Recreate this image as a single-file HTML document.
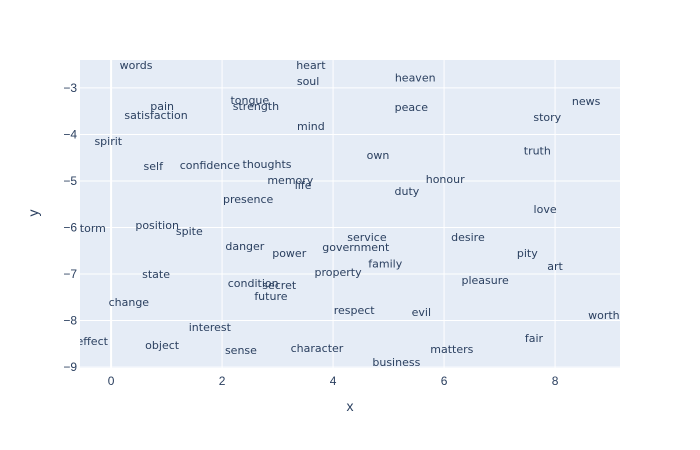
<!DOCTYPE html>
<html><head><meta charset="utf-8">
<style>
html,body{margin:0;padding:0;background:#fff;}
svg{display:block;font-family:"Liberation Sans","DejaVu Sans",sans-serif;}
.w{font-family:"DejaVu Sans","Liberation Sans",sans-serif;}
</style></head>
<body>
<svg id="chart" width="700" height="450" xmlns="http://www.w3.org/2000/svg">
<defs><clipPath id="plotclip"><rect x="80" y="60" width="540" height="308"/></clipPath></defs>
<rect x="80" y="60" width="540" height="308" fill="#e5ecf6"/>
<g id="grid"></g>
<g id="points" clip-path="url(#plotclip)"></g>
<g id="ticks"></g>
<text x="350" y="411" font-size="14" fill="#2a3f5f" text-anchor="middle">x</text>
<text x="0" y="0" font-size="14" fill="#2a3f5f" text-anchor="middle" transform="translate(38,213) rotate(-90)">y</text>
</svg>
<script>
const words = ["words","heart","soul","heaven","news","tongue","strength","pain","satisfaction","peace","story","mind","spirit","truth","own","self","confidence","thoughts","memory","life","honour","duty","season","presence","love","storm","position","spite","danger","power","government","service","desire","pity","art","family","property","state","pleasure","condition","secret","future","change","respect","evil","worth","interest","effect","object","fair","sense","character","matters","business"];
const xVals = [0.45,3.6,3.55,5.48,8.56,2.5,2.61,0.92,0.81,5.41,7.86,3.6,-0.05,7.68,4.81,0.76,1.78,2.81,3.23,3.46,6.02,5.33,-1.0,2.47,7.82,-0.38,0.83,1.41,2.41,3.21,4.41,4.61,6.43,7.5,8.0,4.94,4.09,0.81,6.74,2.56,3.03,2.88,0.32,4.38,5.59,8.88,1.78,-0.34,0.92,7.62,2.34,3.71,6.14,5.14];
const yVals = [-2.51,-2.51,-2.85,-2.78,-3.28,-3.26,-3.39,-3.39,-3.58,-3.41,-3.62,-3.82,-4.14,-4.35,-4.44,-4.68,-4.66,-4.63,-4.98,-5.09,-4.96,-5.22,-5.12,-5.39,-5.6,-6.01,-5.95,-6.08,-6.4,-6.55,-6.42,-6.2,-6.2,-6.55,-6.83,-6.77,-6.96,-7.0,-7.13,-7.19,-7.24,-7.47,-7.6,-7.77,-7.82,-7.88,-8.14,-8.44,-8.53,-8.38,-8.63,-8.59,-8.61,-8.89];
const xTicks = [0,2,4,6,8];
const yTicks = [-3,-4,-5,-6,-7,-8,-9];

const X0=80,X1=620,Y0=60,Y1=368;
const xMin=-0.56,xMax=9.17,yMin=-9.02,yMax=-2.4;
function sx(v){return X0+(v-xMin)/(xMax-xMin)*(X1-X0);}
function sy(v){return Y1-(v-yMin)/(yMax-yMin)*(Y1-Y0);}
const NS="http://www.w3.org/2000/svg";
const grid=document.getElementById('grid'),ticks=document.getElementById('ticks'),pts=document.getElementById('points');
function mk(tag,attrs,parent){const e=document.createElementNS(NS,tag);for(const k in attrs)e.setAttribute(k,attrs[k]);parent.appendChild(e);return e;}
xTicks.forEach(t=>{
  const l=mk('line',{x1:sx(t),x2:sx(t),y1:Y0,y2:Y1,stroke:'#fff','stroke-width':t===0?2:1},grid);
  
  
  const tx=mk('text',{x:sx(t),y:Y1+17,'font-size':12,fill:'#2a3f5f','text-anchor':'middle'},ticks);
  tx.textContent=String(t);
  
  
});
yTicks.forEach(t=>{
  const l=mk('line',{x1:X0,x2:X1,y1:sy(t),y2:sy(t),stroke:'#fff','stroke-width':1},grid);
  
  
  const tx=mk('text',{x:X0-3,y:sy(t)+4,'font-size':12,fill:'#2a3f5f','text-anchor':'end'},ticks);
  tx.textContent='\u2212'+Math.abs(t);
  
  
});
words.forEach((w,i)=>{
  const tx=mk('text',{x:sx(xVals[i]),y:sy(yVals[i])+4,'font-size':11,fill:'#2a3f5f','text-anchor':'middle',class:'w'},pts);
  tx.textContent=w;
  
  
});
</script>
</body></html>
